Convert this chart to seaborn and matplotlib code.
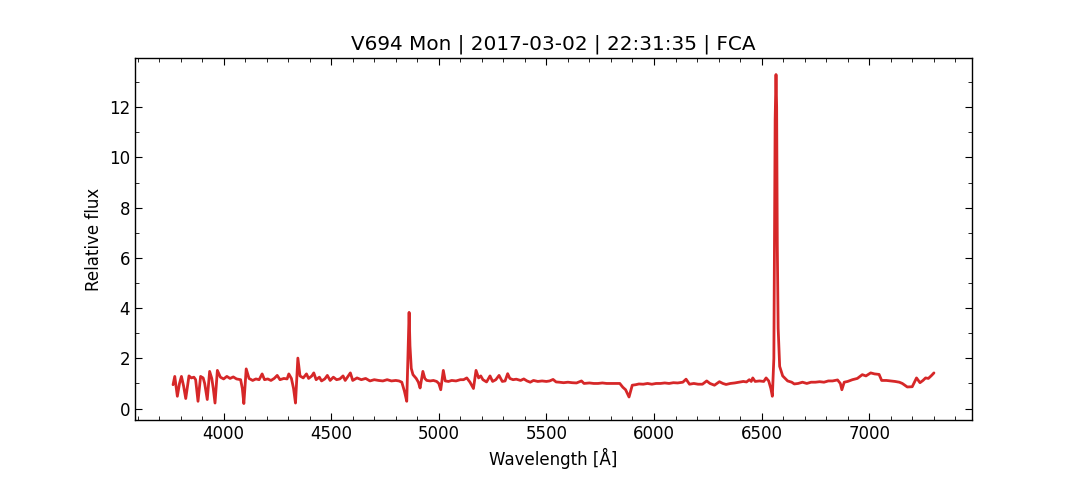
import numpy as np
import pandas as pd
import seaborn as sns
import matplotlib
matplotlib.use("Agg")
import matplotlib.pyplot as plt
from matplotlib.ticker import AutoMinorLocator

# spectrum
wavelength = [
    3765, 3773, 3785, 3795, 3804, 3814, 3824, 3839, 3850, 3862, 3870, 3881,
    3893, 3905, 3912, 3924, 3935, 3945, 3952, 3960, 3971, 3985, 4000, 4015,
    4030, 4045, 4060, 4079, 4087, 4094, 4105, 4118, 4135, 4150, 4165, 4179,
    4190, 4205, 4220, 4235, 4249, 4262, 4280, 4295, 4303, 4315, 4325, 4334,
    4345, 4355, 4370, 4385, 4395, 4410, 4419, 4430, 4445, 4455, 4470, 4482,
    4495, 4510, 4525, 4540, 4555, 4565, 4589, 4600, 4620, 4640, 4660, 4680,
    4700, 4720, 4740, 4760, 4780, 4800, 4815, 4828, 4840, 4851, 4858, 4862,
    4866, 4872, 4880, 4895, 4905, 4913, 4926, 4935, 4944, 4960, 4975, 4990,
    5000, 5009, 5021, 5030, 5045, 5060, 5080, 5100, 5115, 5130, 5145, 5161,
    5173, 5185, 5195, 5205, 5222, 5238, 5250, 5265, 5280, 5295, 5308, 5320,
    5330, 5345, 5360, 5380, 5395, 5410, 5425, 5440, 5460, 5480, 5500, 5515,
    5531, 5545, 5560, 5580, 5600, 5620, 5640, 5663, 5675, 5700, 5720, 5740,
    5760, 5780, 5800, 5820, 5841, 5855, 5868, 5884, 5899, 5915, 5930, 5950,
    5970, 5990, 6010, 6030, 6050, 6070, 6090, 6110, 6134, 6149, 6165, 6185,
    6205, 6225, 6245, 6260, 6281, 6304, 6320, 6335, 6355, 6375, 6395, 6415,
    6430, 6443, 6452, 6459, 6470, 6490, 6510, 6521, 6533, 6543, 6550, 6557,
    6563, 6567, 6570, 6573, 6577, 6584, 6598, 6621, 6640, 6652, 6670, 6690,
    6710, 6730, 6750, 6770, 6790, 6810, 6830, 6853, 6866, 6873, 6884, 6900,
    6922, 6945, 6968, 6985, 7007, 7025, 7046, 7058, 7080, 7100, 7120, 7140,
    7154, 7177, 7200, 7220, 7236, 7250, 7262, 7275, 7290, 7301,
]
flux = [
    0.95, 1.28, 0.49, 1.00, 1.28, 0.90, 0.40, 1.30, 1.22, 1.25, 1.15, 0.29,
    1.28, 1.22, 1.00, 0.36, 1.48, 1.20, 0.80, 0.22, 1.52, 1.25, 1.18, 1.28,
    1.20, 1.26, 1.18, 1.15, 0.80, 0.20, 1.58, 1.20, 1.12, 1.18, 1.15, 1.38,
    1.15, 1.18, 1.12, 1.20, 1.32, 1.15, 1.20, 1.18, 1.38, 1.20, 0.80, 0.22,
    2.01, 1.30, 1.22, 1.38, 1.20, 1.30, 1.42, 1.15, 1.25, 1.10, 1.18, 1.32,
    1.12, 1.25, 1.15, 1.18, 1.30, 1.12, 1.42, 1.12, 1.22, 1.15, 1.20, 1.10,
    1.15, 1.12, 1.10, 1.15, 1.10, 1.12, 1.10, 1.05, 0.70, 0.29, 2.50, 3.83,
    2.50, 1.60, 1.35, 1.20, 1.05, 0.82, 1.48, 1.20, 1.12, 1.10, 1.12, 1.08,
    1.00, 0.75, 1.52, 1.10, 1.08, 1.12, 1.10, 1.15, 1.15, 1.22, 1.05, 0.80,
    1.52, 1.22, 1.30, 1.15, 1.06, 1.30, 1.08, 1.15, 1.32, 1.08, 1.10, 1.39,
    1.20, 1.15, 1.17, 1.12, 1.18, 1.10, 1.05, 1.12, 1.08, 1.10, 1.08, 1.10,
    1.16, 1.06, 1.05, 1.03, 1.05, 1.03, 1.02, 1.10, 1.00, 1.02, 1.00, 1.00,
    1.02, 1.00, 1.00, 1.00, 1.00, 0.85, 0.75, 0.46, 0.93, 0.95, 0.98, 0.97,
    1.00, 0.97, 1.00, 1.00, 1.02, 1.00, 1.03, 1.02, 1.05, 1.17, 0.97, 1.00,
    0.97, 0.97, 1.10, 1.00, 0.93, 1.07, 1.00, 0.96, 1.00, 1.02, 1.05, 1.08,
    1.06, 1.15, 1.08, 1.22, 1.08, 1.10, 1.08, 1.22, 1.10, 0.80, 0.49, 2.00,
    11.5, 13.3, 12.0, 6.50, 3.20, 1.68, 1.30, 1.10, 1.05, 0.98, 1.00, 1.05,
    1.00, 1.05, 1.05, 1.07, 1.05, 1.10, 1.10, 1.14, 1.00, 0.75, 1.05, 1.08,
    1.15, 1.20, 1.35, 1.30, 1.42, 1.38, 1.36, 1.12, 1.12, 1.10, 1.08, 1.05,
    1.00, 0.86, 0.87, 1.22, 1.03, 1.12, 1.22, 1.20, 1.32, 1.42,
]
title = "V694 Mon | 2017-03-02 | 22:31:35 | FCA"

df = pd.DataFrame({"Wavelength": wavelength, "Flux": flux})

sns.set_style("ticks")
plt.rcParams["font.family"] = ["DejaVu Sans"]
plt.rcParams.update({
    "text.color": "black", "axes.labelcolor": "black",
    "xtick.color": "black", "ytick.color": "black",
    "axes.edgecolor": "black",
})

fig, ax = plt.subplots(figsize=(10.8, 4.8), dpi=100)
fig.subplots_adjust(left=0.125, right=0.9, bottom=0.125, top=0.879)

sns.lineplot(data=df, x="Wavelength", y="Flux", color="#d62728", linewidth=2, ax=ax)

ax.set_xlabel("Wavelength [Å]", fontsize=12)
ax.set_ylabel("Relative flux", fontsize=12)
ax.set_title(title, fontsize=14.4)

ax.xaxis.set_minor_locator(AutoMinorLocator(5))
ax.yaxis.set_minor_locator(AutoMinorLocator(2))
ax.tick_params(which="both", direction="in", top=True, right=True, labelsize=12)
ax.tick_params(which="major", length=5)
ax.tick_params(which="minor", length=3)
for s in ax.spines.values():
    s.set_linewidth(1)

fig.savefig("out.png", dpi=100)
